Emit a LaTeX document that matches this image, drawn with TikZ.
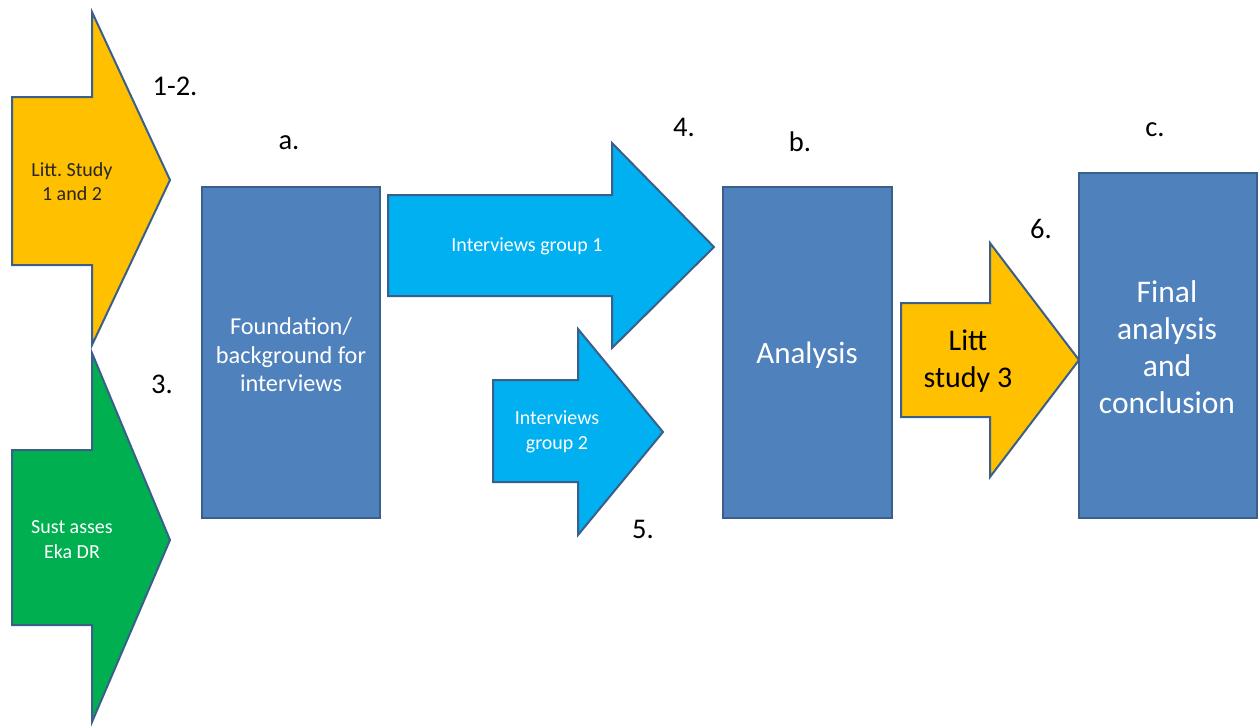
\documentclass[tikz,border=0pt]{standalone}
\usepackage{fontspec}
\setmainfont{Carlito}
\definecolor{boxblue}{HTML}{4F81BD}
\definecolor{edgeblue}{HTML}{3A5F8B}
\definecolor{sunyellow}{HTML}{FFC000}
\definecolor{leafgreen}{HTML}{00B050}
\definecolor{skyblue}{HTML}{00B0F0}
\definecolor{darktext}{HTML}{262626}
\begin{document}
\begin{tikzpicture}[x=1pt,y=-1pt,
  shapeline/.style={draw=edgeblue,line width=2pt,line join=miter},
  stagebox/.style={shapeline,fill=boxblue},
  label/.style={inner sep=0pt,font=\fontsize{28.5}{33}\selectfont,text=black},
  boxtext/.style={inner sep=0pt,align=center,text=white},
]
\useasboundingbox (0,0) rectangle (1258,726);

% literature study 1 and 2
\draw[shapeline,fill=sunyellow] (12,97) -- (92,97) -- (92,12) -- (170,180) -- (92,345) -- (92,265) -- (12,265) -- cycle;
% sustainability assessment
\draw[shapeline,fill=leafgreen] (12,450) -- (92,450) -- (92,353) -- (170,540) -- (92,722) -- (92,625) -- (12,625) -- cycle;
% interviews
\draw[shapeline,fill=skyblue] (388,195) -- (612,195) -- (612,143) -- (714,247) -- (612,348) -- (612,296) -- (388,296) -- cycle;
\draw[shapeline,fill=skyblue] (493,380) -- (578,380) -- (578,329) -- (663,432) -- (578,535) -- (578,482) -- (493,482) -- cycle;
% literature study 3
\draw[shapeline,fill=sunyellow] (901,303) -- (990,303) -- (990,243) -- (1079,360) -- (990,477) -- (990,417) -- (901,417) -- cycle;

% stage boxes
\draw[stagebox] (202,187) rectangle (380,518);
\draw[stagebox] (723,187) rectangle (892,518);
\draw[stagebox] (1079,173) rectangle (1257,518);

% texts in the shapes
\node[boxtext,text=darktext,font=\fontsize{20}{24}\selectfont] (litt12) at (72,182) {Litt.\ Study\\1 and 2};
\node[boxtext,font=\fontsize{20}{25}\selectfont] (sust) at (72,540) {Sust asses\\Eka DR};
\node[boxtext,font=\fontsize{24.3}{28.5}\selectfont] (found) at (291,355) {Foundation/\\background for\\interviews};
\node[boxtext,font=\fontsize{20}{24}\selectfont] (int1) at (527,246) {Interviews group 1};
\node[boxtext,font=\fontsize{20}{25}\selectfont] (int2) at (557,432) {Interviews\\group 2};
\node[boxtext,font=\fontsize{31}{36}\selectfont] (anal) at (807,355) {Analysis};
\node[boxtext,text=black,font=\fontsize{30}{37}\selectfont] (litt3) at (968,361) {Litt\\study 3};
\node[boxtext,font=\fontsize{31.5}{37}\selectfont] (final) at (1167,347) {Final\\analysis\\and\\conclusion};

% step labels
\node[label] (l12) at (175,86) {1-2.};
\node[label] (la) at (289,143) {a.};
\node[label] (l4) at (684,127) {4.};
\node[label] (lb) at (800,142) {b.};
\node[label] (lc) at (1155,130) {c.};
\node[label] (l6) at (1041,229) {6.};
\node[label] (l3) at (162,384) {3.};
\node[label] (l5) at (643,529) {5.};
\end{tikzpicture}
\end{document}
